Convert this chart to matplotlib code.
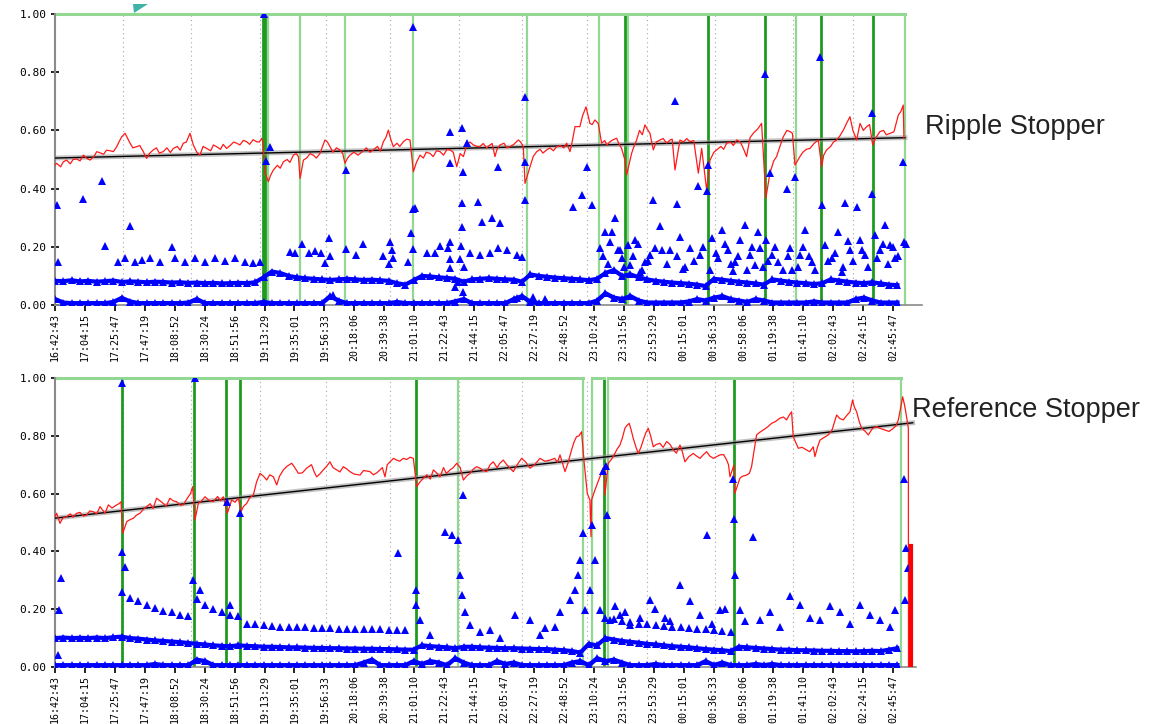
import numpy as np
import matplotlib.pyplot as plt
from matplotlib.patches import Polygon

# x axis: minutes since 16:42:43, one label every 21 min 32 s
TIME_LABELS = ['16:42:43', '17:04:15', '17:25:47', '17:47:19', '18:08:52', '18:30:24',
               '18:51:56', '19:13:29', '19:35:01', '19:56:33', '20:18:06', '20:39:38',
               '21:01:10', '21:22:43', '21:44:15', '22:05:47', '22:27:19', '22:48:52',
               '23:10:24', '23:31:56', '23:53:29', '00:15:01', '00:36:33', '00:58:06',
               '01:19:38', '01:41:10', '02:02:43', '02:24:15', '02:45:47']
TICK_STEP = 21.533
GRID_T = [48.7, 97.6, 147.5, 195.0, 241.0, 290.6, 336.0, 382.7, 425.9, 474.8, 530.9, 574.1]

# ---------------- Ripple Stopper (top) ----------------
RED_TOP_T = [0, 1.2, 8.4, 15.6, 20.4, 25.2, 32.4, 39.6, 44.4, 48.0, 50.4, 54.0, 58.7, 63.5,
             65.9, 70.7, 77.9, 85.1, 92.3, 97.1, 99.5, 104.3, 109.1, 116.3, 123.5, 130.7,
             137.9, 145.1, 148.7, 149.6, 151.1, 153.5, 157.1, 164.3, 171.5, 175.1, 176.3,
             178.7, 185.8, 190.6, 194.2, 197.8, 205.0, 208.6, 212.2, 221.8, 229.0, 236.2,
             239.8, 243.4, 250.6, 255.4, 257.8, 262.6, 269.8, 277.0, 284.2, 289.0, 293.8,
             296.2, 301.0, 305.7, 312.9, 316.5, 320.1, 327.3, 333.3, 336.9, 338.1, 341.7,
             346.5, 353.7, 360.9, 368.1, 370.5, 374.1, 377.6, 382.0, 384.8, 388.4, 390.8,
             393.2, 399.2, 404.0, 407.6, 410.0, 411.2, 414.8, 418.4, 424.4, 428.0, 430.4,
             435.2, 442.4, 446.0, 449.6, 456.8, 462.8, 465.2, 468.8, 471.2, 476.0, 483.2,
             490.4, 497.5, 502.3, 508.3, 510.7, 511.4, 514.3, 519.1, 523.9, 528.7, 532.3,
             535.9, 543.1, 549.1, 551.5, 555.1, 562.3, 567.1, 571.9, 576.7, 579.1, 583.9,
             588.2, 593.5, 600.7, 606.7, 610.2, 610.7]
RED_TOP_V = [0.481, 0.487, 0.498, 0.502, 0.515, 0.498, 0.523, 0.530, 0.544, 0.578, 0.590,
             0.556, 0.544, 0.527, 0.504, 0.533, 0.527, 0.538, 0.556, 0.590, 0.550, 0.515,
             0.538, 0.544, 0.538, 0.556, 0.561, 0.561, 0.573, 0.560, 0.453, 0.424, 0.464,
             0.492, 0.515, 0.510, 0.435, 0.498, 0.515, 0.521, 0.567, 0.544, 0.533, 0.487,
             0.515, 0.530, 0.533, 0.561, 0.601, 0.544, 0.561, 0.567, 0.458, 0.515, 0.521,
             0.527, 0.533, 0.475, 0.510, 0.550, 0.550, 0.544, 0.550, 0.510, 0.550, 0.544,
             0.567, 0.544, 0.418, 0.475, 0.527, 0.533, 0.544, 0.556, 0.527, 0.613, 0.613,
             0.681, 0.624, 0.636, 0.624, 0.556, 0.561, 0.573, 0.538, 0.498, 0.447, 0.521,
             0.567, 0.619, 0.590, 0.533, 0.567, 0.567, 0.464, 0.567, 0.561, 0.453, 0.538,
             0.395, 0.498, 0.533, 0.556, 0.567, 0.510, 0.590, 0.624, 0.430, 0.368, 0.453,
             0.510, 0.578, 0.596, 0.481, 0.510, 0.538, 0.567, 0.475, 0.533, 0.567, 0.601,
             0.647, 0.567, 0.624, 0.613, 0.550, 0.596, 0.590, 0.653, 0.687, 0.573]
# extra readings of the jagged parts of the red trace
RED_TOP_T2 = [4.0, 6.0, 11.0, 13.0, 18.0, 22.5, 28.0, 30.0, 35.0, 37.0, 42.0, 46.0, 52.0,
              56.0, 61.0, 68.0, 73.0, 75.0, 80.5, 83.0, 88.0, 90.0, 94.5, 102.0, 106.5,
              112.0, 114.0, 119.0, 121.0, 126.0, 128.5, 133.0, 135.5, 140.0, 142.5, 147.0,
              155.0, 160.0, 162.0, 167.0, 169.0, 173.5, 181.0, 183.5, 188.0, 192.5, 196.0,
              200.0, 202.5, 207.0, 210.5, 215.0, 218.0, 224.0, 226.5, 232.0, 234.0, 238.0,
              241.5, 246.0, 248.0, 253.0, 260.0, 265.0, 267.0, 272.0, 274.5, 279.5, 282.0,
              286.5, 291.5, 298.5, 303.5, 308.0, 310.5, 314.5, 318.0, 323.0, 325.0, 330.0,
              335.0, 344.0, 349.0, 351.0, 356.0, 358.5, 363.5, 366.0, 372.0, 379.5, 386.5,
              395.5, 397.0, 401.5, 405.5, 416.5, 420.5, 422.5, 426.0, 432.5, 437.5, 440.0,
              444.0, 452.0, 454.5, 459.5, 474.0, 479.0, 481.0, 486.0, 488.0, 493.0, 495.0,
              500.0, 505.5, 517.0, 521.5, 526.5, 530.5, 538.0, 540.5, 546.0, 553.0, 558.0,
              560.0, 564.5, 569.5, 574.0, 581.5, 586.0, 590.5, 596.0, 598.0, 603.5, 608.5]
RED_TOP_V2 = [0.475, 0.492, 0.485, 0.500, 0.495, 0.505, 0.510, 0.527, 0.518, 0.532, 0.527,
              0.560, 0.575, 0.540, 0.548, 0.521, 0.540, 0.522, 0.540, 0.524, 0.545, 0.532,
              0.560, 0.525, 0.545, 0.530, 0.550, 0.535, 0.552, 0.548, 0.560, 0.550, 0.566,
              0.552, 0.568, 0.560,
              0.445, 0.480, 0.470, 0.500, 0.490, 0.520, 0.505, 0.520, 0.505, 0.545, 0.560,
              0.525, 0.540, 0.520, 0.505, 0.525, 0.515, 0.540, 0.525, 0.545, 0.528, 0.575,
              0.570, 0.556, 0.545, 0.570,
              0.490, 0.505, 0.525, 0.510, 0.530, 0.515, 0.535, 0.525, 0.520, 0.560, 0.545,
              0.555, 0.540, 0.555, 0.535, 0.556, 0.540, 0.552, 0.560,
              0.510, 0.535, 0.522, 0.540, 0.530, 0.548, 0.540, 0.560, 0.650, 0.620, 0.565,
              0.550, 0.568, 0.556, 0.545, 0.600, 0.585, 0.605, 0.560, 0.572, 0.556, 0.570,
              0.560, 0.572, 0.565, 0.525, 0.545, 0.535, 0.560, 0.548, 0.560, 0.540, 0.575,
              0.605, 0.495, 0.545, 0.600, 0.590, 0.525, 0.535, 0.555, 0.515, 0.545, 0.560,
              0.580, 0.625, 0.600, 0.600, 0.620, 0.575, 0.600, 0.585, 0.595, 0.665]
TREND_TOP = [0.505, 0.575]

# blue samples every 6 minutes
BAND_T = np.arange(0, 607, 6)
BASE_TOP = [0.02, 0.008, 0.006, 0.006, 0.006, 0.006, 0.006, 0.01, 0.024, 0.012,
            0.006, 0.006, 0.006, 0.006, 0.006, 0.006, 0.008, 0.02, 0.006, 0.006,
            0.006, 0.006, 0.006, 0.006, 0.006, 0.01, 0.006, 0.006, 0.006, 0.006,
            0.006, 0.006, 0.006, 0.03, 0.015, 0.006, 0.006, 0.006, 0.006, 0.006,
            0.006, 0.01, 0.006, 0.006, 0.006, 0.006, 0.006, 0.006, 0.012, 0.02,
            0.006, 0.006, 0.006, 0.006, 0.006, 0.02, 0.03, 0.01, 0.006, 0.006,
            0.006, 0.006, 0.006, 0.006, 0.006, 0.015, 0.04, 0.025, 0.02, 0.03,
            0.015, 0.008, 0.008, 0.008, 0.008, 0.008, 0.012, 0.02, 0.015, 0.025,
            0.03, 0.02, 0.015, 0.01, 0.02, 0.015, 0.008, 0.008, 0.008, 0.008,
            0.008, 0.012, 0.008, 0.008, 0.008, 0.008, 0.02, 0.025, 0.015, 0.008,
            0.008, 0.008]
MID_TOP = [0.083, 0.082, 0.085, 0.081, 0.083, 0.080, 0.082, 0.084, 0.079, 0.081,
           0.080, 0.078, 0.080, 0.079, 0.077, 0.078, 0.076, 0.077, 0.075, 0.076,
           0.074, 0.075, 0.076, 0.075, 0.078, 0.095, 0.115, 0.110, 0.100, 0.095,
           0.092, 0.090, 0.088, 0.086, 0.088, 0.090, 0.088, 0.086, 0.087, 0.085,
           0.083, 0.075, 0.070, 0.085, 0.100, 0.098, 0.095, 0.093, 0.090, 0.080,
           0.088, 0.090, 0.092, 0.090, 0.088, 0.087, 0.080, 0.105, 0.100, 0.097,
           0.094, 0.092, 0.090, 0.088, 0.085, 0.090, 0.110, 0.120, 0.100, 0.105,
           0.095, 0.088, 0.083, 0.080, 0.077, 0.075, 0.073, 0.070, 0.065, 0.090,
           0.087, 0.083, 0.080, 0.077, 0.074, 0.070, 0.088, 0.084, 0.080, 0.077,
           0.075, 0.072, 0.075, 0.088, 0.084, 0.080, 0.077, 0.075, 0.078, 0.074,
           0.070, 0.068]
SCAT_TOP_T = [1.4, 2.2, 20.1, 33.6, 36.0, 54.0, 45.3, 50.4, 57.6, 62.6, 68.3, 75.5, 86.3,
              93.5, 100.7, 107.9, 115.1, 122.3, 129.5, 136.7, 142.4, 147.5, 84.2,
              150.4, 151.8, 154.7, 169.1, 172.7, 177.5, 182.9, 187.0, 191.1, 194.2, 197.3,
              197.8, 200.2, 209.3, 209.3, 216.5, 221.8, 236.2, 240.5, 241.0, 242.2, 242.9,
              254.2, 255.9, 257.8, 257.5, 259.0, 257.8, 267.4, 273.4, 277.0, 282.9, 284.2,
              284.2, 284.2, 284.2, 284.2, 287.8, 290.1, 291.4, 291.9, 292.6, 292.6, 292.6,
              293.7, 293.7, 294.2, 296.2, 298.6, 304.3, 305.7, 307.0, 312.9, 314.2, 318.7,
              318.9, 320.1, 325.0, 332.1, 332.1, 335.7, 338.1, 338.1, 338.1, 344.1, 352.5,
              372.6, 378.9, 382.5, 386.1, 392.1, 395.7, 399.3, 402.9, 406.5, 407.9, 412.2,
              413.7, 417.3, 424.4, 428.0, 431.6, 435.2, 430.2, 446.0, 447.3, 442.4, 449.6,
              456.8, 462.6, 464.0, 468.8, 469.8, 472.6, 477.0, 479.8, 484.2, 489.2, 492.8,
              496.4, 500.0, 503.6, 507.2, 510.8, 511.5, 514.4, 515.8, 520.1, 526.4, 528.8,
              532.3, 536.0, 539.6, 544.6, 550.3, 551.6, 553.9, 559.0, 563.3, 568.3, 571.9,
              576.7, 579.1, 582.7, 587.5, 587.5, 589.9, 593.5, 597.1, 600.7, 604.3, 610.1,
              610.8, 612.2, 420.8, 452.0, 488.0, 530.0, 566.0,
              394.2, 397.8, 400.7, 405.0, 409.3, 415.8, 419.4, 422.3, 426.6, 436.7, 440.3,
              447.5, 453.2, 459.7, 466.2, 471.3, 475.6, 482.1, 486.4, 491.4, 497.9, 501.5,
              505.8, 509.4, 513.0, 518.0, 523.8, 527.4, 534.6, 538.1, 542.4, 546.7, 556.1,
              561.1, 566.9, 570.5, 574.1, 580.5, 584.9, 591.3, 595.7, 599.3, 602.9, 606.5]
SCAT_TOP_V = [0.344, 0.148, 0.364, 0.427, 0.203, 0.271, 0.148, 0.162, 0.148, 0.155, 0.162,
              0.148, 0.162, 0.148, 0.162, 0.148, 0.162, 0.151, 0.162, 0.148, 0.144, 0.148,
              0.200,
              1.000, 0.496, 0.544, 0.183, 0.180, 0.210, 0.178, 0.187, 0.178, 0.145, 0.229,
              0.168, 0.034, 0.464, 0.191, 0.172, 0.210, 0.168, 0.141, 0.218, 0.189, 0.160,
              0.149, 0.246, 0.329, 0.955, 0.333, 0.191, 0.180, 0.178, 0.203, 0.195, 0.596,
              0.487, 0.218, 0.157, 0.126, 0.063, 0.080, 0.157, 0.203, 0.607, 0.352, 0.267,
              0.458, 0.046, 0.132, 0.556, 0.178, 0.355, 0.172, 0.286, 0.178, 0.298, 0.473,
              0.197, 0.281, 0.189, 0.172, 0.023, 0.166, 0.716, 0.492, 0.361, 0.026, 0.019,
              0.338, 0.378, 0.475, 0.344, 0.196, 0.251, 0.216, 0.299, 0.189, 0.162, 0.206,
              0.137, 0.223, 0.148, 0.172, 0.196, 0.271, 0.361, 0.702, 0.347, 0.189, 0.234,
              0.196, 0.409, 0.172, 0.392, 0.481, 0.230, 0.162, 0.258, 0.189, 0.148, 0.223,
              0.275, 0.172, 0.137, 0.196, 0.794, 0.223, 0.455, 0.172, 0.148, 0.397, 0.196,
              0.441, 0.172, 0.258, 0.148, 0.852, 0.344, 0.206, 0.162, 0.251, 0.349, 0.189,
              0.336, 0.223, 0.172, 0.661, 0.381, 0.241, 0.189, 0.275, 0.206, 0.162, 0.492,
              0.216, 0.210, 0.113, 0.125, 0.118, 0.120, 0.115,
              0.17, 0.14, 0.25, 0.19, 0.13, 0.17, 0.21, 0.12, 0.15, 0.19, 0.14,
              0.17, 0.13, 0.15, 0.20, 0.12, 0.18, 0.21, 0.14, 0.17, 0.12, 0.20,
              0.25, 0.13, 0.15, 0.20, 0.12, 0.17, 0.13, 0.20, 0.17, 0.12, 0.15,
              0.18, 0.13, 0.22, 0.15, 0.19, 0.13, 0.16, 0.21, 0.14, 0.20, 0.17]
DARK_TOP = [149.6, 151.1, 410.1, 469.8, 510.8, 551.1, 588.5]
LIGHT_TOP = [153.2, 176.3, 208.6, 257.5, 339.6, 391.4, 412.2, 533.1, 611.5]
FRAME_TOP = [(0, 611.5)]

# ---------------- Reference Stopper (bottom) ----------------
RED_BOT_T = [0, 1.2, 3.6, 8.4, 15.6, 22.8, 27.6, 32.4, 36.0, 38.4, 44.4, 47.5, 48.7, 51.6,
             56.4, 61.1, 65.9, 73.1, 77.9, 82.7, 87.5, 92.3, 95.9, 99.0, 100.7, 103.1,
             107.9, 113.9, 121.1, 124.0, 127.1, 131.9, 133.8, 137.9, 142.7, 147.5, 152.3,
             157.1, 159.5, 164.3, 170.3, 175.1, 181.0, 188.2, 193.0, 197.8, 202.6, 207.4,
             212.2, 219.4, 226.6, 233.8, 237.4, 241.0, 245.8, 250.6, 257.8, 260.2, 265.0,
             272.2, 277.0, 284.2, 289.0, 293.8, 298.5, 303.3, 305.7, 310.5, 315.3, 322.5,
             329.7, 335.7, 341.7, 348.9, 356.1, 363.3, 366.9, 371.6, 375.2, 378.8, 380.5,
             382.9, 384.8, 385.6, 386.0, 388.4, 392.0, 394.9, 395.6, 398.0, 402.8, 406.4,
             410.0, 413.1, 416.0, 419.6, 423.2, 426.8, 430.4, 435.2, 440.0, 444.8, 449.6,
             453.2, 459.2, 464.0, 468.8, 473.6, 478.4, 483.2, 485.6, 488.4, 489.1, 492.7,
             497.5, 501.1, 504.7, 509.5, 515.5, 521.5, 526.3, 529.9, 531.1, 534.7, 540.7,
             545.5, 546.7, 550.3, 556.3, 562.3, 567.1, 571.9, 573.8, 576.7, 580.3, 585.1,
             591.1, 597.1, 603.1, 606.7, 609.8, 612.2, 613.9, 614.0]
RED_BOT_V = [0.520, 0.532, 0.497, 0.520, 0.532, 0.526, 0.537, 0.555, 0.532, 0.561, 0.561,
             0.572, 0.463, 0.503, 0.515, 0.532, 0.555, 0.584, 0.566, 0.584, 0.572, 0.561,
             0.589, 0.624, 0.509, 0.566, 0.589, 0.572, 0.589, 0.532, 0.578, 0.584, 0.537,
             0.566, 0.595, 0.670, 0.647, 0.658, 0.630, 0.682, 0.705, 0.670, 0.688, 0.658,
             0.682, 0.710, 0.682, 0.693, 0.676, 0.664, 0.676, 0.682, 0.658, 0.710, 0.716,
             0.722, 0.722, 0.624, 0.653, 0.682, 0.658, 0.682, 0.705, 0.647, 0.670, 0.693,
             0.688, 0.676, 0.710, 0.716, 0.676, 0.722, 0.688, 0.722, 0.716, 0.734, 0.676,
             0.751, 0.797, 0.814, 0.716, 0.601, 0.578, 0.451, 0.578, 0.612, 0.658, 0.693,
             0.595, 0.705, 0.739, 0.768, 0.826, 0.843, 0.791, 0.739, 0.785, 0.826, 0.762,
             0.774, 0.780, 0.751, 0.768, 0.710, 0.739, 0.722, 0.745, 0.722, 0.734, 0.716,
             0.658, 0.699, 0.601, 0.653, 0.664, 0.693, 0.803, 0.820, 0.843, 0.861, 0.855,
             0.883, 0.797, 0.757, 0.751, 0.762, 0.728, 0.785, 0.803, 0.872, 0.855, 0.883,
             0.924, 0.883, 0.826, 0.803, 0.832, 0.820, 0.826, 0.855, 0.935, 0.878, 0.826,
             0.0]
RED_BOT_T2 = [5.5, 11.0, 13.0, 18.0, 20.5, 25.0, 30.0, 34.0, 41.0, 46.0,
              50.0, 54.0, 58.5, 63.5, 68.5, 70.5, 75.5, 80.0, 85.0, 90.0, 94.0, 97.5,
              105.5, 110.5, 117.0, 119.0, 129.5, 135.5, 140.0, 145.0, 150.0,
              154.5, 161.5, 167.0, 172.5, 178.0, 184.5, 186.5, 190.5, 195.5, 200.0, 205.0,
              210.0, 215.0, 222.0, 229.0, 231.5, 235.5, 239.0, 243.5, 248.0, 253.0, 255.5,
              262.5, 267.5, 270.0, 274.5, 279.5, 281.5, 286.5, 291.5, 296.0, 301.0, 308.0,
              313.0, 318.0, 320.0, 325.0, 327.0, 332.5, 338.5, 345.0, 352.5, 359.5, 361.5,
              369.0, 373.5, 377.0,
              400.5, 404.5, 408.0, 411.5, 414.5, 418.0, 421.5, 425.0, 428.5, 432.5, 437.5,
              442.5, 447.0, 451.0, 456.0, 461.5, 466.5, 471.0, 476.0, 481.0, 484.5,
              494.5, 499.5, 503.0, 507.0, 512.5, 518.5, 524.0, 528.0, 537.5, 543.0, 548.5,
              553.5, 559.0, 564.5, 569.5, 575.0, 578.5, 583.0, 588.0, 594.0, 600.0, 605.0,
              608.5, 611.0]
RED_BOT_V2 = [0.515, 0.530, 0.518, 0.535, 0.522, 0.540, 0.530, 0.545, 0.550, 0.565,
              0.480, 0.510, 0.525, 0.545, 0.565, 0.548, 0.575, 0.557, 0.575, 0.560, 0.575,
              0.600,
              0.575, 0.578, 0.590, 0.575, 0.570, 0.555, 0.585, 0.640, 0.660,
              0.665, 0.660, 0.695, 0.690, 0.672, 0.700, 0.675, 0.668, 0.695, 0.690, 0.675,
              0.685, 0.668, 0.680, 0.665, 0.672, 0.690, 0.700, 0.722, 0.712, 0.718, 0.726,
              0.640, 0.665, 0.650, 0.672, 0.690, 0.670, 0.690, 0.690, 0.660, 0.685, 0.680,
              0.700, 0.690, 0.705, 0.700, 0.690, 0.700, 0.710, 0.700, 0.712, 0.722, 0.708,
              0.705, 0.780, 0.800,
              0.720, 0.755, 0.790, 0.836, 0.820, 0.760, 0.760, 0.810, 0.800, 0.770, 0.760,
              0.770, 0.740, 0.750, 0.728, 0.730, 0.735, 0.730, 0.728, 0.735, 0.700,
              0.660, 0.670, 0.750, 0.812, 0.830, 0.850, 0.865, 0.870, 0.760, 0.745, 0.760,
              0.795, 0.820, 0.860, 0.870, 0.900, 0.850, 0.815, 0.825, 0.825, 0.815, 0.835,
              0.900, 0.910]
TREND_BOT = [0.515, 0.845]
BASE_BOT = [0.006, 0.006, 0.006, 0.006, 0.006, 0.006, 0.006, 0.006, 0.006, 0.006,
            0.006, 0.006, 0.010, 0.006, 0.006, 0.006, 0.006, 0.025, 0.020, 0.006,
            0.006, 0.006, 0.006, 0.006, 0.006, 0.006, 0.006, 0.006, 0.006, 0.006,
            0.006, 0.006, 0.006, 0.006, 0.006, 0.006, 0.006, 0.015, 0.025, 0.006,
            0.006, 0.006, 0.006, 0.020, 0.010, 0.020, 0.015, 0.006, 0.030, 0.015,
            0.006, 0.006, 0.006, 0.020, 0.010, 0.015, 0.006, 0.006, 0.006, 0.006,
            0.006, 0.006, 0.015, 0.020, 0.006, 0.030, 0.020, 0.025, 0.015, 0.006,
            0.006, 0.006, 0.010, 0.006, 0.006, 0.006, 0.006, 0.006, 0.020, 0.006,
            0.015, 0.006, 0.006, 0.006, 0.010, 0.006, 0.010, 0.006, 0.006, 0.006,
            0.006, 0.006, 0.006, 0.006, 0.006, 0.006, 0.006, 0.006, 0.006, 0.006,
            0.006, 0.006]
MID_BOT = [0.100, 0.102, 0.100, 0.101, 0.100, 0.102, 0.100, 0.103, 0.105, 0.100,
           0.098, 0.095, 0.092, 0.090, 0.088, 0.086, 0.083, 0.080, 0.078, 0.075,
           0.073, 0.072, 0.075, 0.073, 0.072, 0.070, 0.070, 0.069, 0.068, 0.068,
           0.067, 0.066, 0.066, 0.065, 0.065, 0.064, 0.064, 0.063, 0.063, 0.062,
           0.062, 0.061, 0.060, 0.060, 0.075, 0.072, 0.070, 0.068, 0.065, 0.070,
           0.070, 0.068, 0.067, 0.066, 0.065, 0.065, 0.064, 0.063, 0.062, 0.062,
           0.060, 0.058, 0.055, 0.050, 0.080, 0.075, 0.100, 0.095, 0.090, 0.087,
           0.084, 0.080, 0.078, 0.075, 0.072, 0.070, 0.068, 0.065, 0.062, 0.060,
           0.058, 0.055, 0.070, 0.068, 0.066, 0.064, 0.062, 0.060, 0.060, 0.058,
           0.058, 0.057, 0.056, 0.056, 0.055, 0.055, 0.054, 0.055, 0.056, 0.055,
           0.060, 0.065]
nan = np.nan
UPPER_BOT = [nan, nan, nan, nan, nan, nan, nan, nan, 0.260, 0.240,
             0.230, 0.215, 0.205, 0.195, 0.190, 0.180, 0.175, 0.235, 0.215, 0.200,
             0.190, 0.180, 0.175, 0.150, 0.148, 0.145, 0.143, 0.140, 0.140, 0.138,
             0.137, 0.136, 0.135, 0.134, 0.133, 0.132, 0.132, 0.131, 0.130, 0.130,
             0.129, 0.128, 0.127, nan, nan, nan, nan, nan, nan, nan,
             nan, nan, nan, nan, nan, nan, nan, nan, nan, nan,
             nan, nan, nan, nan, nan, nan, 0.170, 0.165, 0.160, 0.155,
             0.150, 0.148, 0.145, 0.142, 0.140, 0.137, 0.135, 0.132, 0.130, 0.128,
             0.125, 0.122, nan, nan, nan, nan, nan, nan, nan, nan,
             nan, nan, nan, nan, nan, nan, nan, nan, nan, nan,
             nan, nan]
SCAT_BOT_T = [2.9, 4.3, 2.2, 48.2, 48.2, 50.4, 99.3, 100.7, 104.3, 123.5, 133.1, 125.9,
              246.8, 259.7, 259.7, 262.6, 280.6, 285.4, 289.9, 293.5, 291.4, 292.8, 295.0,
              298.6, 312.9, 330.9, 341.7, 352.5, 363.3, 370.5, 374.1, 376.3, 377.7, 380.1,
              381.3, 386.1, 384.9, 388.5, 394.0, 396.4, 396.8, 392.1, 399.3, 406.5, 413.7,
              428.0, 438.8, 449.6, 468.8, 478.4, 488.0, 488.5, 489.2, 492.8, 501.9, 507.2,
              528.8, 536.0, 550.3, 564.7, 579.1, 593.5, 604.3, 610.8, 612.2, 613.6, 611.5,
              402.9, 410.1, 420.9, 431.6, 442.4, 456.8, 464.0, 472.6, 482.0, 496.4, 514.4,
              521.6, 543.1, 557.5, 571.9, 586.3, 600.7, 269.8, 305.7, 320.1, 348.9, 359.7]
SCAT_BOT_V = [0.197, 0.308, 0.042, 0.983, 0.398, 0.346, 0.301, 1.000, 0.266, 0.572, 0.532,
              0.215, 0.394, 0.215, 0.266, 0.163, 0.467, 0.457, 0.439, 0.595, 0.318, 0.249,
              0.190, 0.145, 0.128, 0.180, 0.163, 0.135, 0.190, 0.232, 0.266, 0.318, 0.370,
              0.463, 0.197, 0.491, 0.266, 0.370, 0.679, 0.697, 0.526, 0.197, 0.163, 0.180,
              0.145, 0.232, 0.170, 0.284, 0.457, 0.197, 0.649, 0.512, 0.318, 0.197, 0.449,
              0.163, 0.246, 0.215, 0.163, 0.190, 0.215, 0.163, 0.197, 0.650, 0.412, 0.343,
              0.232,
              0.21, 0.19, 0.17, 0.20, 0.16, 0.23, 0.18, 0.15, 0.20, 0.16, 0.19,
              0.14, 0.17, 0.21, 0.15, 0.18, 0.14, 0.11, 0.12, 0.10, 0.11, 0.14]
DARK_BOT = [48.2, 100.0, 123.0, 133.1, 259.7, 395.0, 488.5]
LIGHT_BOT = [289.9, 379.8, 386.3, 397.8, 608.6]
FRAME_BOT = [(0, 379.8), (386.3, 395.0), (397.8, 608.6)]
RED_BAR_T = 615.8
RED_BAR_V = 0.42

BLUE = '#0000ff'
RED = '#ff1a1a'
LIGHT_GREEN = '#92d892'
DARK_GREEN = '#1f9a1f'
MONO = 'DejaVu Sans Mono'


def merged(t1, v1, t2, v2):
    t = np.concatenate([t1, t2])
    v = np.concatenate([v1, v2])
    order = np.argsort(t, kind='stable')
    return t[order], v[order]


def draw_panel(ax, red_t, red_v, trend, base, mid, upper, sc_t, sc_v,
               dark, light, frame, xmax, trend_end):
    ax.set_xlim(0, xmax)
    ax.set_ylim(0, 1.0)
    for g in GRID_T:
        ax.axvline(g, color='#a8a8a8', lw=0.8, ls=(0, (1, 3)), zorder=1)
    for x in light:
        ax.axvline(x, color=LIGHT_GREEN, lw=1.6, zorder=2)
    for x in dark:
        ax.axvline(x, color=DARK_GREEN, lw=2.0, zorder=2)
    for a, b in frame:
        ax.plot([a, b], [1.0, 1.0], color=LIGHT_GREEN, lw=2.2, zorder=2, clip_on=False)
    # trend line with grey halo
    ax.plot([0, trend_end], trend, color='#9a9a9a', lw=3.5, alpha=0.6, zorder=3)
    ax.plot([0, trend_end], trend, color='black', lw=1.0, zorder=3)
    ax.plot(red_t, red_v, color=RED, lw=0.9, zorder=4)
    # blue triangles
    ax.plot(BAND_T, base, color=BLUE, lw=3.2, marker='^', ms=5.2, mew=0, zorder=5)
    ax.plot(BAND_T, mid, color=BLUE, lw=3.0, marker='^', ms=5.2, mew=0, zorder=5)
    if upper is not None:
        ax.plot(BAND_T, upper, color=BLUE, lw=0, marker='^', ms=5.2, mew=0, zorder=5)
    ax.plot(sc_t, sc_v, ls='none', color=BLUE, marker='^', ms=5.2, mew=0, zorder=5)

    for s in ['top', 'right']:
        ax.spines[s].set_visible(False)
    ax.spines['left'].set_color('#8a8a8a')
    ax.spines['left'].set_linewidth(1.5)
    ax.spines['bottom'].set_color('#8a8a8a')
    ax.spines['bottom'].set_linewidth(1.2)

    ax.set_yticks([0, 0.2, 0.4, 0.6, 0.8, 1.0])
    ax.set_yticklabels(['0.00', '0.20', '0.40', '0.60', '0.80', '1.00'],
                       fontfamily=MONO, fontsize=8)
    ax.tick_params(axis='y', direction='inout', length=6, width=1.2, color='black', pad=3)
    ax.set_xticks(np.arange(len(TIME_LABELS)) * TICK_STEP)
    ax.set_xticklabels(TIME_LABELS, rotation=90, fontfamily=MONO, fontsize=7.2)
    ax.tick_params(axis='x', direction='out', length=4, width=1.2, color='black', pad=2)


fig = plt.figure(figsize=(11.6, 7.24), dpi=100)
ax1 = fig.add_axes([55 / 1160, 1 - 305 / 724, 867 / 1160, 291 / 724])
ax2 = fig.add_axes([55 / 1160, 1 - 667 / 724, 861 / 1160, 289 / 724])

rt, rv = merged(RED_TOP_T, RED_TOP_V, RED_TOP_T2, RED_TOP_V2)
draw_panel(ax1, rt, rv, TREND_TOP, BASE_TOP, MID_TOP, None,
           SCAT_TOP_T, SCAT_TOP_V, DARK_TOP, LIGHT_TOP, FRAME_TOP, 623.7, 611.5)
rt, rv = merged(RED_BOT_T, RED_BOT_V, RED_BOT_T2, RED_BOT_V2)
draw_panel(ax2, rt, rv, TREND_BOT, BASE_BOT, MID_BOT, UPPER_BOT,
           SCAT_BOT_T, SCAT_BOT_V, DARK_BOT, LIGHT_BOT, FRAME_BOT, 619.4, 617.0)
ax2.plot([RED_BAR_T, RED_BAR_T], [0, RED_BAR_V], color='#ff0000', lw=3, zorder=6)

fig.text(925 / 1160, 1 - 127 / 724, 'Ripple Stopper', fontfamily='Liberation Sans',
         fontsize=19.5, color='#222222', va='center', ha='left')
fig.text(912 / 1160, 1 - 410 / 724, 'Reference Stopper', fontfamily='Liberation Sans',
         fontsize=19.5, color='#222222', va='center', ha='left')

# small teal mark cut by the top edge of the scan
fig.patches.append(Polygon([(133 / 1160, 1 - 4 / 724), (148 / 1160, 1 - 4 / 724),
                            (134 / 1160, 1 - 13 / 724)], closed=True,
                           transform=fig.transFigure, color='#3fb3a6', lw=0))

fig.savefig('out.png', dpi=100, facecolor='white')
